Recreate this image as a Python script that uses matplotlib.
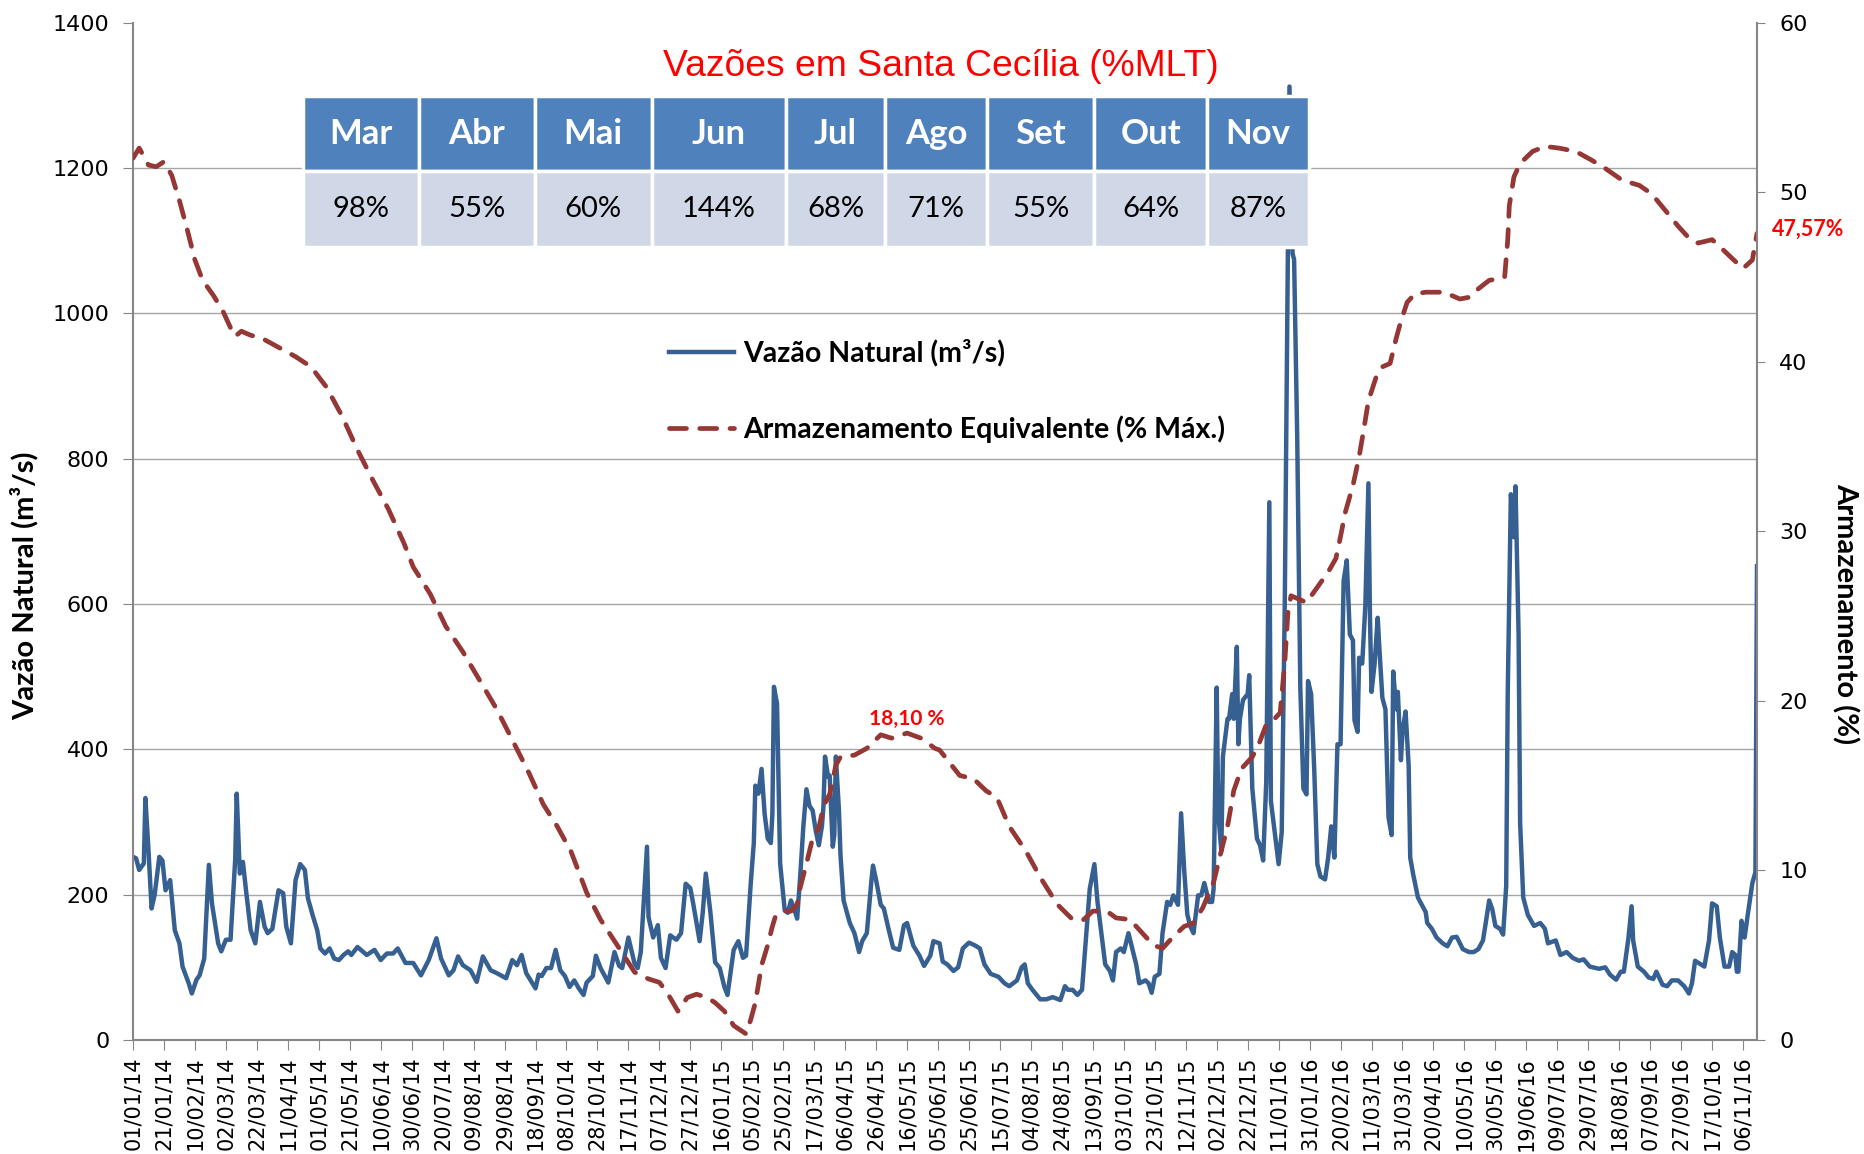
import numpy as np
import pandas as pd
import matplotlib
matplotlib.use("Agg")
import matplotlib.pyplot as plt
import matplotlib.dates as mdates

# dias contados a partir de 01/01/2014
inicio = pd.Timestamp("2014-01-01")

vazao_dia = [
    0, 2, 4, 7, 8, 10, 12, 14, 17, 19, 21, 24, 27, 30, 32, 36, 38, 41, 43, 46,
    49, 51, 52, 55, 57, 60, 63, 66, 67, 69, 71, 73, 76, 79, 82, 85, 87, 90, 94, 97,
    99, 102, 105, 108, 111, 113, 116, 119, 121, 124, 127, 130, 133, 136, 139, 141, 145, 151, 156, 160,
    164, 168, 171, 176, 181, 186, 191, 196, 199, 204, 207, 210, 213, 218, 222, 226, 231, 235, 241, 245,
    248, 251, 254, 260, 262, 264, 267, 270, 273, 276, 279, 282, 285, 288, 291, 293, 297, 299, 302, 307,
    311, 314, 316, 320, 324, 326, 328, 332, 333, 336, 339, 341, 344, 347, 351, 354, 357, 360, 362, 366,
    368, 370, 373, 376, 379, 382, 384, 388, 391, 394, 396, 399, 401, 402, 404, 406, 408, 410, 412, 413,
    414, 416, 418, 421, 423, 425, 427, 429, 431, 433, 435, 437, 439, 441, 443, 445, 446, 447, 449, 450,
    452, 453, 454, 456, 457, 459, 463, 466, 469, 471, 474, 477, 478, 480, 483, 485, 488, 491, 495, 498,
    500, 504, 508, 511, 515, 517, 521, 523, 526, 530, 533, 536, 540, 544, 547, 550, 554, 559, 563, 566,
    571, 574, 576, 578, 581, 586, 590, 594, 599, 602, 604, 607, 610, 613, 616, 618, 621, 623, 626, 628,
    631, 633, 635, 638, 640, 643, 645, 648, 650, 654, 656, 658, 660, 663, 665, 668, 670, 672, 675, 677,
    679, 681, 683, 685, 688, 690, 692, 695, 697, 698, 700, 701, 703, 704, 707, 708, 710, 711, 713, 714,
    715, 717, 720, 721, 723, 726, 728, 730, 732, 734, 735, 737, 740, 742, 744, 746, 747, 749, 750, 752,
    754, 756, 758, 759, 761, 763, 765, 767, 770, 772, 774, 776, 778, 780, 782, 784, 786, 788, 789, 791,
    792, 794, 796, 798, 799, 800, 802, 804, 805, 807, 809, 811, 813, 814, 816, 817, 819, 820, 822, 824,
    825, 827, 830, 833, 835, 836, 839, 842, 846, 849, 852, 855, 859, 863, 866, 869, 872, 874, 876, 878,
    880, 883, 885, 887, 888, 890, 892, 893, 895, 896, 898, 901, 905, 909, 912, 914, 919, 922, 926, 930,
    934, 937, 941, 947, 951, 954, 958, 961, 963, 966, 968, 969, 972, 976, 979, 982, 984, 988, 991, 994,
    998, 1002, 1005, 1007, 1009, 1012, 1015, 1018, 1020, 1023, 1025, 1028, 1031, 1033, 1035, 1036, 1037, 1039, 1041, 1043,
    1046, 1048, 1049,
]
vazao = [
    252, 250, 234, 243, 333, 261, 181, 200, 252, 247, 206, 220, 151, 133, 101, 78, 64, 83, 89, 112,
    241, 188, 174, 133, 122, 138, 138, 248, 339, 229, 245, 206, 151, 133, 190, 156, 147, 153, 206, 202,
    156, 133, 220, 242, 234, 195, 172, 151, 126, 119, 126, 112, 110, 117, 122, 117, 128, 117, 124, 110,
    119, 119, 126, 106, 106, 89, 110, 140, 112, 89, 96, 115, 103, 96, 80, 115, 96, 92, 85, 110,
    103, 117, 92, 71, 90, 88, 99, 99, 124, 96, 88, 73, 82, 71, 62, 79, 88, 116, 99, 79,
    121, 102, 99, 141, 105, 99, 121, 266, 169, 141, 158, 113, 99, 144, 138, 147, 215, 209, 186, 136,
    175, 229, 175, 107, 99, 73, 62, 124, 136, 113, 116, 215, 271, 350, 339, 373, 311, 277, 271, 311,
    486, 463, 243, 178, 175, 192, 181, 167, 226, 294, 345, 322, 316, 288, 268, 294, 322, 390, 362, 364,
    266, 282, 390, 316, 254, 192, 161, 147, 121, 136, 147, 220, 240, 220, 186, 181, 153, 127, 124, 158,
    161, 130, 116, 102, 116, 136, 133, 108, 104, 95, 100, 126, 134, 130, 126, 104, 91, 87, 78, 74,
    82, 100, 104, 78, 69, 56, 56, 59, 55, 74, 69, 69, 62, 69, 152, 208, 242, 190, 139, 104,
    95, 82, 121, 126, 121, 147, 130, 104, 78, 82, 78, 65, 87, 91, 147, 190, 186, 199, 186, 312,
    234, 173, 156, 147, 199, 199, 216, 190, 190, 208, 485, 312, 260, 390, 442, 442, 476, 442, 541, 407,
    442, 468, 476, 502, 346, 277, 268, 247, 355, 740, 329, 294, 242, 286, 606, 1091, 1312, 1082, 1074, 831,
    485, 346, 338, 494, 476, 372, 242, 225, 221, 251, 294, 251, 407, 407, 632, 660, 558, 550, 440, 424,
    526, 518, 597, 766, 581, 479, 518, 581, 542, 471, 455, 306, 282, 507, 455, 479, 385, 424, 452, 377,
    251, 227, 196, 184, 176, 161, 153, 141, 133, 129, 141, 142, 125, 121, 121, 125, 137, 164, 192, 180,
    157, 153, 145, 212, 479, 751, 692, 762, 558, 298, 196, 172, 157, 161, 153, 133, 137, 117, 121, 113,
    109, 111, 101, 98, 100, 90, 83, 94, 94, 141, 184, 137, 101, 94, 86, 84, 94, 76, 74, 82,
    82, 74, 64, 78, 109, 105, 101, 137, 188, 184, 141, 101, 101, 121, 117, 94, 94, 164, 141, 172,
    216, 231, 652,
]

arm_dia = [
    0, 4, 10, 15, 20, 25, 30, 35, 40, 45, 52, 58, 63, 66, 70, 75, 85, 95, 105, 115,
    125, 135, 145, 155, 165, 175, 181, 192, 202, 213, 224, 235, 245, 256, 262, 265, 274, 283, 293, 302,
    312, 324, 333, 340, 345, 352, 358, 364, 371, 376, 382, 388, 396, 399, 402, 406, 410, 413, 415, 420,
    425, 429, 431, 435, 439, 443, 446, 450, 454, 457, 466, 474, 483, 490, 500, 509, 518, 521, 534, 543,
    551, 558, 566, 577, 586, 597, 607, 614, 620, 629, 635, 644, 652, 659, 665, 672, 679, 685, 691, 698,
    702, 707, 711, 716, 723, 727, 732, 737, 741, 744, 746, 748, 753, 758, 765, 772, 777, 780, 783, 788,
    792, 795, 798, 803, 807, 812, 816, 819, 823, 828, 835, 841, 847, 852, 857, 863, 869, 876, 882, 886,
    888, 889, 892, 896, 904, 912, 921, 932, 942, 951, 962, 973, 981, 990, 998, 1005, 1011, 1020, 1026, 1034,
    1040, 1046, 1049,
]
arm = [
    52.0, 52.6, 51.6, 51.5, 51.8, 51.0, 49.5, 47.8, 46.0, 44.8, 43.9, 43.0, 42.0, 41.5, 41.8, 41.6, 41.3, 40.8, 40.3, 39.7,
    38.5, 36.8, 34.8, 33.0, 31.3, 29.3, 27.9, 26.3, 24.4, 22.9, 21.2, 19.5, 17.7, 15.7, 14.5, 13.9, 12.6, 11.1, 8.7, 7.1,
    5.7, 4.0, 3.6, 3.4, 2.8, 1.7, 2.5, 2.7, 2.5, 2.2, 1.7, 0.85, 0.36, 1.2, 2.2, 4.4, 5.6, 6.7, 7.3, 7.6,
    7.6, 8.0, 9.0, 10.4, 11.9, 12.5, 13.8, 14.5, 16.2, 16.7, 16.8, 17.2, 18.0, 17.8, 18.1, 17.8, 17.2, 17.1, 15.6, 15.4,
    14.7, 14.3, 12.6, 11.1, 9.6, 8.0, 7.1, 7.1, 7.6, 7.6, 7.2, 7.1, 6.3, 5.6, 5.4, 6.1, 6.7, 6.9, 7.8, 9.3,
    10.8, 12.6, 14.7, 16.0, 16.7, 17.4, 18.6, 18.9, 19.3, 22.3, 25.2, 26.2, 26.0, 25.8, 26.7, 27.6, 28.4, 29.7, 31.1, 32.7,
    34.4, 36.0, 37.7, 39.1, 39.7, 39.9, 41.4, 42.4, 43.5, 44.0, 44.1, 44.1, 44.1, 43.9, 43.7, 43.8, 44.3, 44.8, 44.9, 45.0,
    47.2, 49.2, 50.9, 51.7, 52.4, 52.7, 52.6, 52.4, 51.9, 51.4, 50.7, 50.4, 49.9, 48.9, 48.0, 47.3, 47.0, 47.2, 46.7, 46.0,
    45.5, 46.0, 47.57,
]

meses = ["Mar", "Abr", "Mai", "Jun", "Jul", "Ago", "Set", "Out", "Nov"]
mlt = [98, 55, 60, 144, 68, 71, 55, 64, 87]

datas_vazao = inicio + pd.to_timedelta(vazao_dia, unit="D")
datas_arm = inicio + pd.to_timedelta(arm_dia, unit="D")

AZUL = "#376092"
VERMELHO = "#953735"
CINZA = "#868686"
FONTE = ["Lato", "DejaVu Sans"]

W, H = 1864, 1154
fig = plt.figure(figsize=(W / 100, H / 100), dpi=100)
ax1 = fig.add_axes([133 / W, 1 - 1040 / H, (1757 - 133) / W, (1040 - 22.6) / H])
ax2 = ax1.twinx()

l1, = ax1.plot(datas_vazao, vazao, color=AZUL, lw=3.2, solid_joinstyle="round",
               label="Vazão Natural (m³/s)")
l2, = ax2.plot(datas_arm, arm, color=VERMELHO, lw=3.4, ls=(0, (3.6, 2.8)),
               dash_capstyle="round", label="Armazenamento Equivalente (% Máx.)")

ax1.set_xlim(inicio, inicio + pd.Timedelta(days=1049))
ax1.set_ylim(0, 1400)
ax2.set_ylim(0, 60)
ax1.set_yticks(np.arange(0, 1401, 200))
ax2.set_yticks(np.arange(0, 61, 10))

ticks = pd.date_range(inicio, "2016-11-06", freq="20D")
ax1.set_xticks(ticks)
ax1.xaxis.set_major_formatter(mdates.DateFormatter("%d/%m/%y"))
ax1.tick_params(axis="x", rotation=90, labelsize=15, length=7, color=CINZA, pad=5)
ax1.tick_params(axis="y", labelsize=16, length=7, color=CINZA, pad=10)
ax2.tick_params(axis="y", labelsize=16, length=6, color=CINZA, pad=10)

ax1.set_axisbelow(True)
ax1.yaxis.grid(True, color="#A6A6A6", lw=1.0)
for gl, v in zip(ax1.get_ygridlines(), ax1.get_yticks()):
    if v in (0, 1400):
        gl.set_visible(False)

for a in (ax1, ax2):
    a.spines["top"].set_visible(False)
ax1.spines["right"].set_visible(False)
ax2.spines["left"].set_visible(False)
ax2.spines["bottom"].set_visible(False)
for s in (ax1.spines["left"], ax1.spines["bottom"], ax2.spines["right"]):
    s.set_color(CINZA)
    s.set_linewidth(1.5)

ax1.set_ylabel("Vazão Natural (m³/s)", fontsize=21, fontweight="bold", family=FONTE)
ax1.yaxis.set_label_coords(-0.058, 0.446)
ax2.set_ylabel("Armazenamento (%)", fontsize=21, fontweight="bold", family=FONTE, rotation=-90)
ax2.yaxis.set_label_coords(1.063, 0.419)

# anotações do armazenamento
arm_arr = np.array(arm)
dia_arr = np.array(arm_dia)
janela = (dia_arr > 400) & (dia_arr < 600)
i_max = np.where(janela)[0][np.argmax(arm_arr[janela])]
ax2.annotate(f"{arm_arr[i_max]:.2f} %".replace(".", ","), xy=(datas_arm[i_max], arm_arr[i_max]),
             xytext=(0, 10), textcoords="offset points", ha="center", va="center",
             color="red", fontsize=15, fontweight="bold", family=FONTE)
ax2.annotate(f"{arm[-1]:.2f}%".replace(".", ","), xy=(datas_arm[-1], arm[-1]),
             xytext=(37, 3), textcoords="offset points", ha="center", va="center",
             color="red", fontsize=15.5, fontweight="bold", family=FONTE, annotation_clip=False)

leg = ax2.legend(handles=[l1, l2], loc="upper left", bbox_to_anchor=(669 / W, 1 - 339 / H),
                 bbox_transform=fig.transFigure, frameon=False, borderpad=0, borderaxespad=0,
                 handlelength=2.3, handletextpad=0.3, labelspacing=1.72,
                 prop={"family": FONTE, "weight": "bold", "size": 20.5})

fig.text(941 / W, 1 - 67 / H, "Vazões em Santa Cecília (%MLT)", color="red", fontsize=26.8,
         family=["Liberation Sans", "DejaVu Sans"], ha="center", va="center")

# tabela %MLT
larguras = [116, 116, 117, 134, 100, 102, 107, 113, 102]
tab_ax = fig.add_axes([303 / W, 1 - 247 / H, 1006 / W, (247 - 96) / H])
tab_ax.axis("off")
tbl = tab_ax.table(cellText=[[f"{v}%" for v in mlt]], colLabels=meses,
                   colWidths=[w / sum(larguras) for w in larguras],
                   cellLoc="center", bbox=[0, 0, 1, 1])
tbl.auto_set_font_size(False)
for (r, c), cell in tbl.get_celld().items():
    cell.set_edgecolor("white")
    cell.set_linewidth(2.5)
    if r == 0:
        cell.set_facecolor("#4F81BD")
        cell.get_text().set_color("white")
        cell.get_text().set_fontweight("bold")
        cell.get_text().set_fontsize(25)
    else:
        cell.set_facecolor("#D0D8E8")
        cell.get_text().set_fontsize(21)
    cell.get_text().set_family(FONTE)

fig.savefig("out.png", dpi=100)
